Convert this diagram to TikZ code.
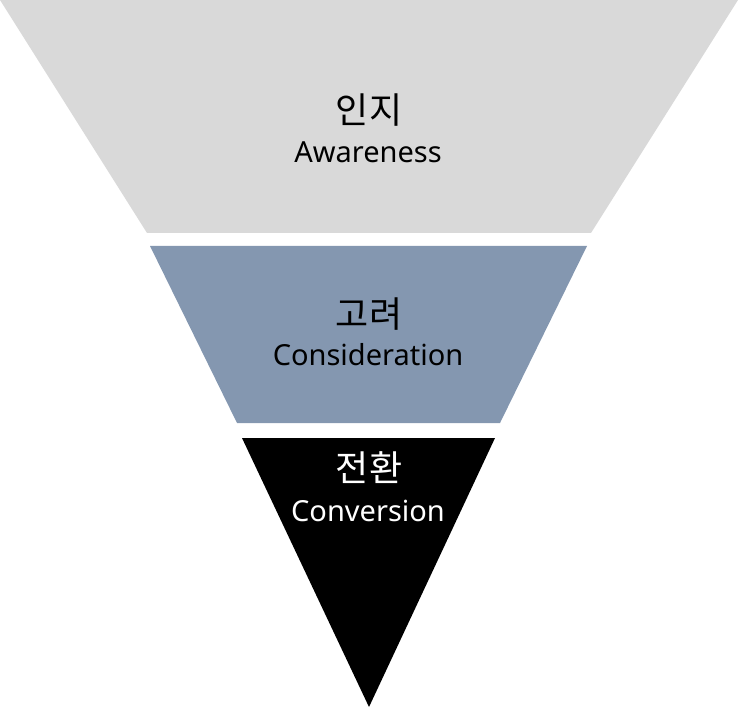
\documentclass[tikz,border=0pt]{standalone}
\usepackage{fontspec}
\setmainfont{Noto Sans}
\newfontfamily\kofont{Noto Sans CJK KR}
\definecolor{lgray}{HTML}{D9D9D9}
\definecolor{bgray}{HTML}{8497B0}
\begin{document}
\begin{tikzpicture}[x=1pt,y=-1pt,
  ko/.style={font=\kofont\fontsize{36}{40}\selectfont, inner sep=0pt},
  en/.style={font=\fontsize{29}{33}\selectfont, inner sep=0pt}]
\useasboundingbox (0,0) rectangle (738,708);
\fill[lgray] (0,0) -- (738,0) -- (591,233) -- (147,233) -- cycle;
\fill[bgray] (150,246) -- (587,246) -- (500,423) -- (237,423) -- cycle;
\fill[black] (242,438) -- (495,438) -- (369,707) -- cycle;
\node[ko] (t1) at (369,110) {인지};
\node[en] (s1) at (368,152) {Awareness};
\node[ko] (t2) at (369,314) {고려};
\node[en] (s2) at (368,355) {Consideration};
\node[ko, text=white] (t3) at (369,468) {전환};
\node[en, text=white] (s3) at (368,511) {Conversion};
\end{tikzpicture}
\end{document}
